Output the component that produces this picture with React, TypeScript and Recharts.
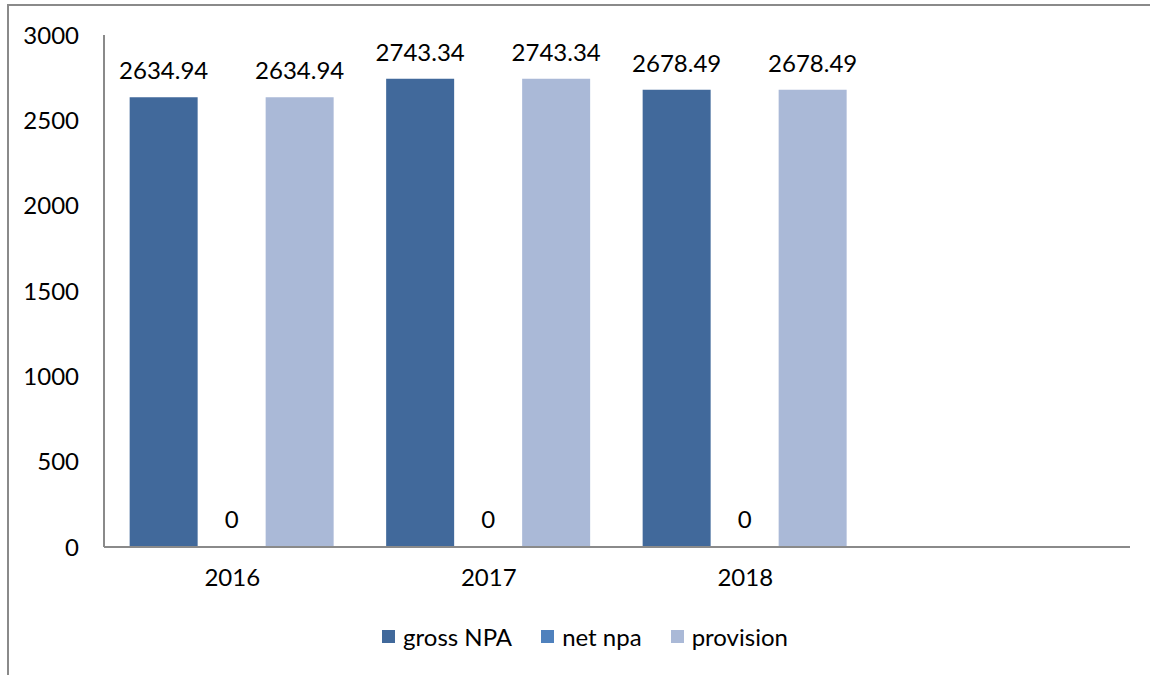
import React from 'react';
import { BarChart, Bar, XAxis, YAxis, LabelList, Legend } from 'recharts';

const categories = ['2016', '2017', '2018', ''];
const grossNPA = [2634.94, 2743.34, 2678.49, null];
const netNPA = [0, 0, 0, null];
const provision = [2634.94, 2743.34, 2678.49, null];
const yTicks = [0, 500, 1000, 1500, 2000, 2500, 3000];

const seriesInfo = [
  { key: 'gross', name: 'gross NPA', color: '#41699B' },
  { key: 'net', name: 'net npa', color: '#4F81BD' },
  { key: 'prov', name: 'provision', color: '#AAB9D7' },
];

const data = categories.map((c, i) => ({
  name: c,
  gross: grossNPA[i],
  net: netNPA[i],
  prov: provision[i],
}));

const FONT = 'Lato, "Open Sans", sans-serif';
const FS = 24;

const fmt = (v: any) => (v === null || v === undefined ? '' : String(v));

const LegendContent = () => (
  <div style={{ display: 'flex', justifyContent: 'center', alignItems: 'center', fontFamily: FONT, fontSize: FS, color: '#000', paddingLeft: 20 }}>
    {seriesInfo.map((s, i) => (
      <div key={s.key} style={{ display: 'flex', alignItems: 'center', marginRight: i < seriesInfo.length - 1 ? 29 : 0 }}>
        <div style={{ width: 13, height: 13, background: s.color, marginRight: 8 }} />
        <span>{s.name}</span>
      </div>
    ))}
  </div>
);

export default function App() {
  return (
    <div style={{ position: 'absolute', left: 0, top: 0, width: 1150, height: 675, background: '#fff', overflow: 'hidden' }}>
      <div style={{ position: 'absolute', left: 7, top: 4, width: 1200, height: 700, borderLeft: '2px solid #8a8a8a', borderTop: '2px solid #8a8a8a' }} />
      <div style={{ position: 'absolute', left: 0, top: 0 }}>
        <BarChart
          width={1150}
          height={675}
          data={data}
          margin={{ top: 35, right: 20, left: 0, bottom: 38 }}
          barCategoryGap="10%"
          barGap={0}
        >
          {seriesInfo.map((s) => (
            <Bar key={s.key} dataKey={s.key} name={s.name} fill={s.color} isAnimationActive={false} minPointSize={s.key === 'net' ? 1 : 0}>
              <LabelList dataKey={s.key} position="top" offset={18} formatter={fmt} style={{ fill: '#000', fontSize: FS, fontFamily: FONT }} />
            </Bar>
          ))}
          <XAxis
            dataKey="name"
            axisLine={{ stroke: '#8a8a8a', strokeWidth: 2 }}
            tickLine={false}
            tickSize={0}
            tickMargin={22}
            height={40}
            tick={{ fill: '#000', fontSize: FS, fontFamily: FONT }}
          />
          <YAxis
            domain={[0, 3000]}
            ticks={yTicks}
            interval={0}
            width={104}
            axisLine={{ stroke: '#8a8a8a', strokeWidth: 2 }}
            tickLine={false}
            tickSize={0}
            tickMargin={25}
            tick={{ fill: '#000', fontSize: FS, fontFamily: FONT }}
          />
          <Legend verticalAlign="bottom" height={50} content={<LegendContent />} wrapperStyle={{ top: 622, left: 0, width: 1150 }} />
        </BarChart>
      </div>
    </div>
  );
}
